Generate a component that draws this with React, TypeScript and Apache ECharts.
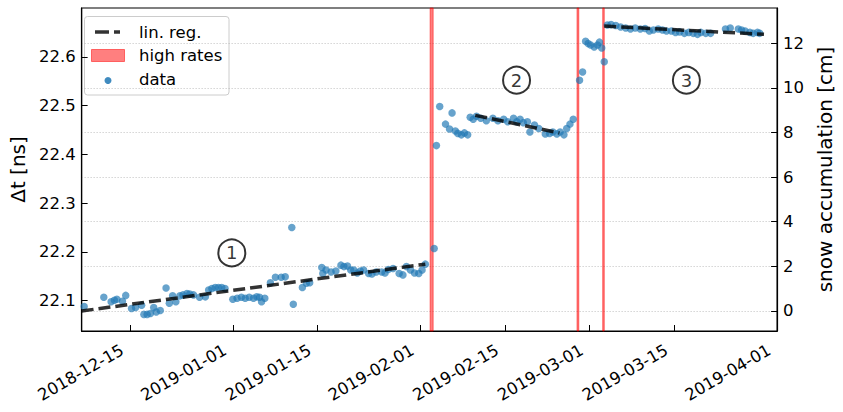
import React, { useEffect, useRef } from "react";
import * as echarts from "echarts";

// ---- data ----
const dataTimes = [
  "2018-12-07 10:00", "2018-12-10 16:00", "2018-12-11 21:00", "2018-12-12 10:00", "2018-12-12 20:00",
  "2018-12-13 18:00", "2018-12-14 07:00", "2018-12-15 06:00", "2018-12-15 22:00", "2018-12-16 22:00",
  "2018-12-17 07:00", "2018-12-17 20:00", "2018-12-18 09:00", "2018-12-18 22:00", "2018-12-19 08:00",
  "2018-12-20 00:00", "2018-12-20 23:00", "2018-12-21 12:00", "2018-12-22 01:00", "2018-12-22 14:00",
  "2018-12-23 06:00", "2018-12-23 18:00", "2018-12-24 10:00", "2018-12-24 21:00", "2018-12-25 12:00",
  "2018-12-26 12:00", "2018-12-27 11:00", "2018-12-28 00:00", "2018-12-28 13:00", "2018-12-29 02:00",
  "2018-12-29 15:00", "2018-12-30 04:00", "2018-12-30 17:00", "2019-01-01 00:00", "2019-01-01 17:00",
  "2019-01-02 10:00", "2019-01-03 01:00", "2019-01-03 17:00", "2019-01-04 10:00", "2019-01-04 23:00",
  "2019-01-05 10:00", "2019-01-05 18:00", "2019-01-06 07:00", "2019-01-07 05:00", "2019-01-08 01:00",
  "2019-01-09 00:00", "2019-01-09 16:00", "2019-01-10 18:00", "2019-01-11 00:00", "2019-01-12 12:00",
  "2019-01-13 04:00", "2019-01-13 17:00", "2019-01-15 17:00", "2019-01-15 21:00", "2019-01-16 10:00",
  "2019-01-17 06:00", "2019-01-18 01:00", "2019-01-18 21:00", "2019-01-19 09:00", "2019-01-19 23:00",
  "2019-01-20 12:00", "2019-01-21 00:00", "2019-01-21 14:00", "2019-01-22 02:00", "2019-01-22 15:00",
  "2019-01-23 11:00", "2019-01-24 00:00", "2019-01-24 17:00", "2019-01-25 15:00", "2019-01-26 04:00",
  "2019-01-26 17:00", "2019-01-27 12:00", "2019-01-28 12:00", "2019-01-29 03:00", "2019-01-29 17:00",
  "2019-01-30 09:00", "2019-01-31 01:00", "2019-01-31 18:00", "2019-02-01 07:00", "2019-02-01 20:00",
  "2019-02-03 07:00", "2019-02-03 16:00", "2019-02-04 05:00", "2019-02-05 04:00", "2019-02-05 20:00",
  "2019-02-06 06:00", "2019-02-06 19:00", "2019-02-07 05:00", "2019-02-07 19:00", "2019-02-08 07:00",
  "2019-02-08 20:00", "2019-02-09 06:00", "2019-02-09 18:00", "2019-02-10 07:00", "2019-02-11 00:00",
  "2019-02-11 22:00", "2019-02-13 00:00", "2019-02-13 20:00", "2019-02-14 19:00", "2019-02-15 11:00",
  "2019-02-16 10:00", "2019-02-16 23:00", "2019-02-17 12:00", "2019-02-18 01:00", "2019-02-18 17:00",
  "2019-02-19 03:00", "2019-02-19 21:00", "2019-02-20 14:00", "2019-02-21 16:00", "2019-02-22 09:00",
  "2019-02-22 22:00", "2019-02-23 14:00", "2019-02-24 03:00", "2019-02-24 18:00", "2019-02-25 05:00",
  "2019-02-25 18:00", "2019-02-26 07:00", "2019-02-27 08:00", "2019-02-27 20:00", "2019-02-28 08:00",
  "2019-02-28 18:00", "2019-03-01 04:00", "2019-03-01 18:00", "2019-03-02 07:00", "2019-03-02 15:00",
  "2019-03-03 00:00", "2019-03-03 10:00", "2019-03-03 22:00", "2019-03-04 13:00", "2019-03-05 08:00",
  "2019-03-06 03:00", "2019-03-06 23:00", "2019-03-07 18:00", "2019-03-08 13:00", "2019-03-09 09:00",
  "2019-03-10 04:00", "2019-03-10 21:00", "2019-03-11 13:00", "2019-03-12 08:00", "2019-03-13 01:00",
  "2019-03-13 17:00", "2019-03-14 12:00", "2019-03-15 05:00", "2019-03-15 21:00", "2019-03-16 16:00",
  "2019-03-17 09:00", "2019-03-18 03:00", "2019-03-18 20:00", "2019-03-19 09:00", "2019-03-20 05:00",
  "2019-03-21 00:00", "2019-03-23 11:00", "2019-03-24 06:00", "2019-03-25 14:00", "2019-03-26 03:00",
  "2019-03-26 17:00", "2019-03-27 12:00", "2019-03-28 01:00", "2019-03-28 18:00", "2019-03-29 03:00",
];
const dataValues = [
  22.088, 22.107, 22.098, 22.101, 22.103,
  22.099, 22.111, 22.084, 22.086, 22.091,
  22.072, 22.072, 22.074, 22.086, 22.077,
  22.080, 22.126, 22.095, 22.110, 22.098,
  22.110, 22.112, 22.115, 22.114, 22.112,
  22.107, 22.108, 22.122, 22.125, 22.127,
  22.127, 22.127, 22.125, 22.103, 22.105,
  22.107, 22.105, 22.107, 22.105, 22.108,
  22.107, 22.098, 22.105, 22.137, 22.148,
  22.148, 22.149, 22.250, 22.093, 22.127,
  22.136, 22.137, 22.168, 22.156, 22.163,
  22.159, 22.161, 22.173, 22.170, 22.171,
  22.163, 22.163, 22.157, 22.161, 22.163,
  22.156, 22.155, 22.159, 22.159, 22.157,
  22.164, 22.166, 22.156, 22.153, 22.170,
  22.163, 22.157, 22.156, 22.163, 22.175,
  22.207, 22.418, 22.498, 22.462, 22.452,
  22.485, 22.448, 22.443, 22.440, 22.444,
  22.440, 22.476, 22.472, 22.478, 22.474,
  22.469, 22.474, 22.469, 22.472, 22.467,
  22.474, 22.467, 22.472, 22.465, 22.467,
  22.446, 22.460, 22.453, 22.442, 22.443,
  22.446, 22.442, 22.446, 22.440, 22.453,
  22.462, 22.472, 22.552, 22.569, 22.632,
  22.627, 22.624, 22.620, 22.624, 22.630,
  22.618, 22.590, 22.665, 22.666, 22.664,
  22.661, 22.659, 22.657, 22.659, 22.657,
  22.658, 22.653, 22.655, 22.657, 22.655,
  22.653, 22.653, 22.650, 22.651, 22.648,
  22.650, 22.648, 22.646, 22.650, 22.648,
  22.648, 22.657, 22.659, 22.657, 22.655,
  22.653, 22.650, 22.648, 22.650, 22.648,
];

const reg1Times = ["2018-12-07 00:00", "2019-02-01 20:00"];
const reg1Values = [22.079, 22.175];
const reg2Times = ["2019-02-10 02:00", "2019-02-24 00:00"];
const reg2Values = [22.48, 22.444];
const reg3Times = ["2019-03-03 10:00", "2019-03-29 20:00"];
const reg3Values = [22.663, 22.646];

const highRateStarts = ["2019-02-02 15:00", "2019-02-26 22:00", "2019-03-03 04:00"];
const highRateEnds = ["2019-02-03 03:00", "2019-02-27 05:00", "2019-03-03 10:00"];

const xTickLabels = [
  "2018-12-15", "2019-01-01", "2019-01-15", "2019-02-01",
  "2019-02-15", "2019-03-01", "2019-03-15", "2019-04-01",
];
const leftTicks = [22.1, 22.2, 22.3, 22.4, 22.5, 22.6];
const rightTicks = [0, 2, 4, 6, 8, 10, 12];

const annotationTimes = ["2018-12-31 20:00", "2019-02-16 22:00", "2019-03-17 00:00"];
const annotationValues = [22.198, 22.552, 22.552];
const annotationLabels = ["1", "2", "3"];

const FONT = "DejaVu Sans";
const BLUE = "rgba(31,119,180,0.85)";
const DASH = [12, 5];

const t = (s: string) => echarts.time.parse(s).getTime();
const pad = (n: number) => (n < 10 ? "0" + n : "" + n);
const fmtDate = (v: number) => {
  const d = new Date(v);
  return d.getFullYear() + "-" + pad(d.getMonth() + 1) + "-" + pad(d.getDate());
};

export default function App() {
  const ref = useRef<HTMLDivElement>(null);
  useEffect(() => {
    if (!ref.current) return;
    const chart = echarts.init(ref.current, null, { renderer: "svg" });
    const regSeries = [
      [reg1Times, reg1Values],
      [reg2Times, reg2Values],
      [reg3Times, reg3Values],
    ].map(([ts, vs]: any, i) => ({
      type: "line",
      name: "lin. reg." + i,
      yAxisIndex: 0,
      data: ts.map((tt: string, j: number) => [t(tt), vs[j]]),
      symbol: "none",
      z: 4,
      lineStyle: { color: "rgba(0,0,0,0.8)", width: 3.5, type: DASH },
      silent: true,
    }));
    const xTicks = xTickLabels.map(t);
    chart.setOption({
      animation: false,
      textStyle: { fontFamily: FONT },
      grid: {
        left: 76, right: 60, top: 8, bottom: 81,
        show: true, borderColor: "#000", borderWidth: 1.2, backgroundColor: "transparent",
      },
      xAxis: {
        type: "value",
        min: t("2018-12-07 00:00"),
        max: t("2019-04-01 00:00"),
        axisLine: { show: true, onZero: false, lineStyle: { color: "#000", width: 1.2 } },
        axisTick: {
          show: true, inside: true, length: 6, lineStyle: { color: "#000", width: 1 },
          customValues: xTicks,
        },
        axisLabel: {
          customValues: xTicks,
          rotate: 30, margin: 23, color: "#000", fontSize: 16.5, fontFamily: FONT,
          align: "right", verticalAlign: "bottom", padding: [0, 4, 0, 0],
          formatter: (v: number) => fmtDate(v),
        },
        splitLine: { show: false },
      },
      yAxis: [
        {
          type: "value",
          min: 22.038, max: 22.7,
          position: "left",
          name: "Δt [ns]", nameLocation: "middle", nameGap: 47, nameRotate: 90,
          nameTextStyle: { color: "#000", fontSize: 20, fontFamily: FONT },
          axisLine: { show: true, onZero: false, lineStyle: { color: "#000", width: 1.2 } },
          axisTick: {
            show: true, inside: true, length: 6, lineStyle: { color: "#000", width: 1 },
            customValues: leftTicks,
          },
          axisLabel: {
            customValues: leftTicks, margin: 6, color: "#000", fontSize: 16.5, fontFamily: FONT,
            formatter: (v: number) => v.toFixed(1),
          },
          splitLine: { show: false },
        },
        {
          type: "value",
          min: -0.9, max: 13.58,
          position: "right",
          name: "snow accumulation [cm]", nameLocation: "middle", nameGap: 31, nameRotate: 90,
          nameTextStyle: { color: "#000", fontSize: 20, fontFamily: FONT },
          axisLine: { show: true, onZero: false, lineStyle: { color: "#000", width: 1.2 } },
          axisTick: {
            show: true, inside: true, length: 6, lineStyle: { color: "#000", width: 1 },
            customValues: rightTicks,
          },
          axisLabel: {
            customValues: rightTicks, margin: 6, color: "#000", fontSize: 16.5, fontFamily: FONT,
          },
          splitLine: { show: true, lineStyle: { color: "#b0b0b0", width: 0.8, type: [1, 2] } },
        },
      ],
      series: [
        {
          type: "line",
          name: "high rates",
          data: [],
          z: 1,
          silent: true,
          markArea: {
            silent: true,
            itemStyle: {
              color: "rgba(255,0,0,0.5)",
              borderColor: "rgba(255,0,0,0.5)",
              borderWidth: 1,
            },
            data: highRateStarts.map((s, i) => [{ xAxis: t(s) }, { xAxis: t(highRateEnds[i]) }]),
          },
        },
        {
          type: "scatter",
          name: "data",
          yAxisIndex: 0,
          z: 2,
          symbolSize: 7.5,
          itemStyle: { color: BLUE },
          data: dataTimes.map((s, i) => [t(s), dataValues[i]]),
        },
        ...regSeries,
        {
          type: "scatter",
          name: "annotations",
          yAxisIndex: 0,
          z: 5,
          symbolSize: 27,
          itemStyle: { color: "#fff", borderColor: "#000", borderWidth: 2 },
          label: {
            show: true, position: "inside", color: "#000", fontSize: 18, fontFamily: FONT,
            formatter: (p: any) => annotationLabels[p.dataIndex],
          },
          data: annotationTimes.map((s, i) => [t(s), annotationValues[i]]),
        },
      ],
      graphic: [
        {
          type: "group",
          z: 100,
          children: [
            {
              type: "rect",
              shape: { x: 84.5, y: 16.5, width: 144.5, height: 78.5, r: 3 },
              style: { fill: "rgba(255,255,255,0.85)", stroke: "#cccccc", lineWidth: 1 },
            },
            {
              type: "line",
              shape: { x1: 95, y1: 32, x2: 120, y2: 32 },
              style: { stroke: "rgba(0,0,0,0.8)", lineWidth: 3.5, lineDash: [14, 5] },
            },
            {
              type: "rect",
              shape: { x: 91.5, y: 49.5, width: 33, height: 12 },
              style: { fill: "rgba(255,0,0,0.5)", stroke: "rgba(255,0,0,0.5)", lineWidth: 1 },
            },
            {
              type: "circle",
              shape: { cx: 108, cy: 80.5, r: 3.5 },
              style: { fill: BLUE },
            },
            {
              type: "text", x: 139, y: 32,
              style: { text: "lin. reg.", fill: "#000", font: `16.5px '${FONT}'`, verticalAlign: "middle" },
            },
            {
              type: "text", x: 139, y: 55.5,
              style: { text: "high rates", fill: "#000", font: `16.5px '${FONT}'`, verticalAlign: "middle" },
            },
            {
              type: "text", x: 139, y: 79.5,
              style: { text: "data", fill: "#000", font: `16.5px '${FONT}'`, verticalAlign: "middle" },
            },
          ],
        },
      ],
    });
    return () => chart.dispose();
  }, []);
  return (
    <div
      ref={ref}
      style={{ position: "absolute", left: 0, top: 0, width: 843, height: 412 }}
    />
  );
}
